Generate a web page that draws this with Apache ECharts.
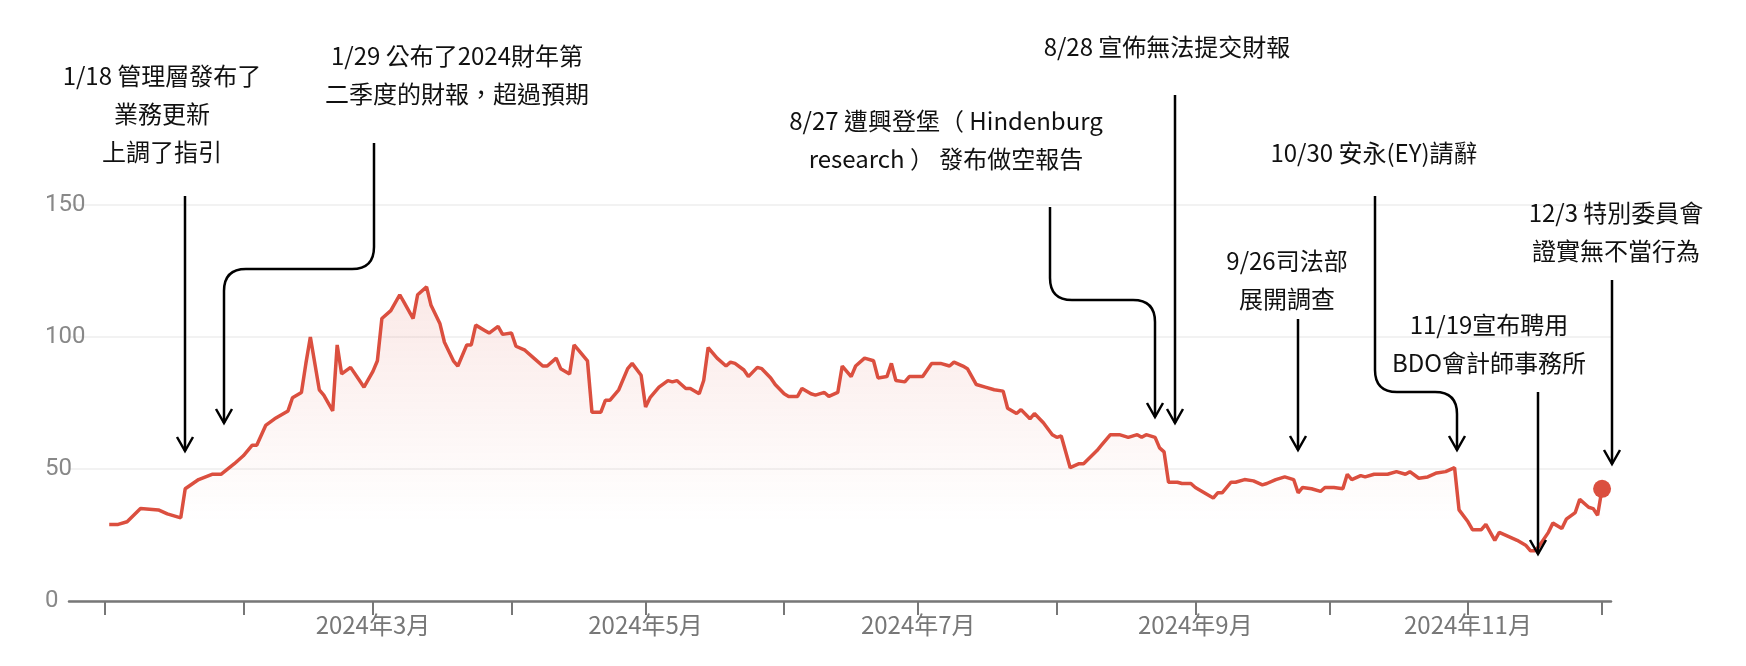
<!DOCTYPE html>
<html lang="zh-Hant">
<head>
    <meta charset="UTF-8">
    <title>超微股價</title>
    <script src="https://cdn.jsdelivr.net/npm/echarts@6/dist/echarts.min.js"></script>
    <style>
        html, body { margin: 0; padding: 0; background: #fff; }
        #main { width: 1746px; height: 666px; }
    </style>
</head>
<body>
<div id="main"></div>
<script>
    // 日期與收盤價
    const dates = [
        '2024-01-02','2024-01-04','2024-01-06','2024-01-09','2024-01-13','2024-01-15','2024-01-18','2024-01-19','2024-01-22','2024-01-25',
        '2024-01-27','2024-01-30','2024-02-01','2024-02-03','2024-02-04','2024-02-06','2024-02-08','2024-02-11','2024-02-12','2024-02-14',
        '2024-02-15','2024-02-16','2024-02-18','2024-02-19','2024-02-21','2024-02-22','2024-02-23','2024-02-25','2024-02-27','2024-02-28',
        '2024-03-01','2024-03-02','2024-03-03','2024-03-05','2024-03-07','2024-03-08','2024-03-10','2024-03-11','2024-03-13','2024-03-14',
        '2024-03-16','2024-03-17','2024-03-19','2024-03-20','2024-03-22','2024-03-23','2024-03-24','2024-03-26','2024-03-27','2024-03-29',
        '2024-03-30','2024-04-01','2024-04-02','2024-04-04','2024-04-06','2024-04-08','2024-04-09','2024-04-11','2024-04-12','2024-04-14',
        '2024-04-15','2024-04-16','2024-04-18','2024-04-19','2024-04-21','2024-04-22','2024-04-23','2024-04-25','2024-04-27','2024-04-28',
        '2024-04-30','2024-05-01','2024-05-02','2024-05-04','2024-05-06','2024-05-07','2024-05-08','2024-05-10','2024-05-11','2024-05-13',
        '2024-05-14','2024-05-15','2024-05-17','2024-05-19','2024-05-20','2024-05-21','2024-05-23','2024-05-24','2024-05-26','2024-05-27',
        '2024-05-29','2024-05-30','2024-06-01','2024-06-02','2024-06-04','2024-06-05','2024-06-07','2024-06-08','2024-06-10','2024-06-11',
        '2024-06-13','2024-06-14','2024-06-16','2024-06-17','2024-06-19','2024-06-21','2024-06-22','2024-06-24','2024-06-25','2024-06-26',
        '2024-06-28','2024-06-29','2024-07-01','2024-07-02','2024-07-04','2024-07-06','2024-07-08','2024-07-09','2024-07-11','2024-07-12',
        '2024-07-14','2024-07-16','2024-07-18','2024-07-20','2024-07-21','2024-07-23','2024-07-24','2024-07-26','2024-07-27','2024-07-29',
        '2024-07-31','2024-08-01','2024-08-02','2024-08-04','2024-08-06','2024-08-07','2024-08-10','2024-08-11','2024-08-13','2024-08-15',
        '2024-08-17','2024-08-19','2024-08-20','2024-08-21','2024-08-23','2024-08-24','2024-08-25','2024-08-26','2024-08-28','2024-08-29',
        '2024-08-31','2024-09-01','2024-09-03','2024-09-05','2024-09-06','2024-09-07','2024-09-09','2024-09-10','2024-09-12','2024-09-14',
        '2024-09-16','2024-09-17','2024-09-19','2024-09-21','2024-09-23','2024-09-24','2024-09-25','2024-09-27','2024-09-29','2024-09-30',
        '2024-10-02','2024-10-04','2024-10-05','2024-10-06','2024-10-08','2024-10-09','2024-10-11','2024-10-13','2024-10-14','2024-10-16',
        '2024-10-18','2024-10-19','2024-10-21','2024-10-23','2024-10-25','2024-10-27','2024-10-29','2024-10-30','2024-11-01','2024-11-02',
        '2024-11-04','2024-11-05','2024-11-07','2024-11-08','2024-11-10','2024-11-12','2024-11-14','2024-11-15','2024-11-16','2024-11-17',
        '2024-11-19','2024-11-20','2024-11-22','2024-11-23','2024-11-25','2024-11-26','2024-11-28','2024-11-29','2024-11-30','2024-12-01'
    ];
    const prices = [
        29, 29, 30, 35, 34.5, 33, 31.5, 42.5, 46, 48,
        48, 52, 55, 59, 59, 66.5, 69, 72, 77, 79,
        90, 100, 80, 78, 72, 97, 86, 88.5, 83.5, 81,
        87, 91, 107, 110, 116, 113, 107, 116, 119, 112,
        105, 98, 91, 89, 97, 97, 104.5, 102.5, 101.5, 104,
        101, 101.5, 96.5, 95, 92, 89, 89, 92, 88, 86,
        97, 95, 91, 71.5, 71.5, 76, 76, 80, 88, 90,
        85.5, 73.5, 77, 81, 83.5, 83, 83.5, 80.5, 80.5, 78.5,
        83.5, 96, 92, 89, 90.5, 90, 87.5, 85, 88.5, 88,
        84.5, 82, 78.5, 77.5, 77.5, 80.5, 78.5, 78, 79, 77.5,
        79, 89, 85, 89, 92, 91, 84.5, 85, 90, 83.5,
        83, 85, 85, 85, 90, 90, 89, 90.5, 89, 88,
        82, 81, 80, 79.5, 73, 71, 72.5, 69, 71, 67.5,
        63, 62, 62.5, 50.5, 52, 52, 57, 59, 63, 63,
        62, 63, 62, 63, 62, 58, 56.5, 45, 45, 44.5,
        44.5, 43, 41, 39, 41, 41, 45, 45, 46, 45.5,
        44, 44.5, 46, 47, 46, 41, 43, 42.5, 41.5, 43,
        43, 42.5, 48, 46, 47.5, 47, 48, 48, 48, 49,
        48, 49, 46.5, 47, 48.5, 49, 50.5, 34.5, 30, 27,
        27, 29, 23, 26, 24.5, 23, 21, 19, 19, 21,
        26, 29.5, 27.5, 31, 33.5, 38.5, 35.5, 35, 32.5, 42.5
    ];
    const yTicks = [0, 50, 100, 150];
    const labelMonths = [3, 5, 7, 9, 11];

    // 事件註解
    const notes = [
        { lines: ['1/18 管理層發布了', '業務更新', '上調了指引'], x: 162, y: 76 },
        { lines: ['1/29 公布了2024財年第', '二季度的財報，超過預期'], x: 457, y: 56 },
        { lines: ['8/27 遭興登堡（ Hindenburg', 'research ） 發布做空報告'], x: 946, y: 121 },
        { lines: ['8/28 宣佈無法提交財報'], x: 1167, y: 47 },
        { lines: ['10/30 安永(EY)請辭'], x: 1374, y: 153 },
        { lines: ['9/26司法部', '展開調查'], x: 1287, y: 261 },
        { lines: ['11/19宣布聘用', 'BDO會計師事務所'], x: 1489, y: 325 },
        { lines: ['12/3 特別委員會', '證實無不當行為'], x: 1616, y: 213 }
    ];
    // 箭頭路徑（像素）
    const arrows = [
        [[185, 196], [185, 451]],
        [[374, 143], [374, 269], [224, 269], [224, 423]],
        [[1050, 207], [1050, 300], [1155, 300], [1155, 417]],
        [[1175, 95], [1175, 423]],
        [[1375, 196], [1375, 392], [1457, 392], [1457, 450]],
        [[1298, 319], [1298, 450]],
        [[1538, 392], [1538, 554]],
        [[1612, 280], [1612, 464]]
    ];

    const textFont = '"Noto Sans CJK TC", "Noto Sans", sans-serif';
    const lineStyle = { stroke: '#000', lineWidth: 2.5, fill: null };
    let graphics = [];
    notes.forEach(function(n) {
        n.lines.forEach(function(t, i) {
            graphics.push({
                type: 'text', x: n.x, y: n.y + i * 38,
                style: { text: t, font: '400 24px ' + textFont, fill: '#111', align: 'center', verticalAlign: 'middle' },
                z: 10
            });
        });
    });
    // 折線轉角用圓角
    arrows.forEach(function(pts) {
        const r = 22;
        let start = pts[0];
        for (let i = 1; i < pts.length; i++) {
            const p = pts[i];
            if (i < pts.length - 1) {
                const prev = pts[i - 1], next = pts[i + 1];
                const a = [p[0] - Math.sign(p[0] - prev[0]) * r, p[1] - Math.sign(p[1] - prev[1]) * r];
                const b = [p[0] + Math.sign(next[0] - p[0]) * r, p[1] + Math.sign(next[1] - p[1]) * r];
                graphics.push({ type: 'line', shape: { x1: start[0], y1: start[1], x2: a[0], y2: a[1] }, style: lineStyle, z: 10 });
                graphics.push({ type: 'bezierCurve', shape: { x1: a[0], y1: a[1], x2: b[0], y2: b[1], cpx1: p[0], cpy1: p[1] }, style: lineStyle, z: 10 });
                start = b;
            } else {
                graphics.push({ type: 'line', shape: { x1: start[0], y1: start[1], x2: p[0], y2: p[1] }, style: lineStyle, z: 10 });
            }
        }
        const tip = pts[pts.length - 1];
        graphics.push({
            type: 'polyline',
            shape: { points: [[tip[0] - 8, tip[1] - 14], [tip[0], tip[1]], [tip[0] + 8, tip[1] - 14]] },
            style: lineStyle, z: 10
        });
    });

    const seriesData = dates.map(function(d, i) { return [d, prices[i]]; });

    let myChart = echarts.init(document.getElementById('main'));
    let option = {
        animation: false,
        grid: { left: 69, right: 135, top: 205, bottom: 65 },
        xAxis: {
            type: 'time',
            min: '2023-12-24',
            max: '2024-12-03',
            minInterval: 59 * 86400000,
            maxInterval: 62 * 86400000,
            axisLine: { lineStyle: { color: '#777', width: 2.5 } },
            axisTick: { show: true, length: 14, lineStyle: { color: '#777', width: 2 } },
            axisLabel: {
                color: '#777', fontSize: 24, fontFamily: textFont, margin: 12,
                formatter: function(v) {
                    const d = new Date(v);
                    const m = d.getMonth() + 1;
                    return labelMonths.indexOf(m) >= 0 && d.getDate() === 1 ? d.getFullYear() + '年' + m + '月' : '';
                }
            },
            splitLine: { show: false }
        },
        yAxis: {
            type: 'value',
            min: yTicks[0], max: yTicks[yTicks.length - 1], interval: 50,
            axisLine: { show: false },
            axisTick: { show: false },
            axisLabel: { color: '#888', fontSize: 24, fontFamily: 'Roboto, sans-serif', align: 'left', margin: 24, verticalAlign: 'middle' },
            splitLine: { lineStyle: { color: '#eeeeee', width: 1.5 } }
        },
        series: [{
            type: 'line',
            data: seriesData,
            showSymbol: false,
            lineStyle: { color: '#db4f3f', width: 3.5 },
            itemStyle: { color: '#db4f3f' },
            areaStyle: {
                color: new echarts.graphic.LinearGradient(0, 0, 0, 1, [
                    { offset: 0, color: 'rgba(219,79,63,0.18)' },
                    { offset: 0.75, color: 'rgba(219,79,63,0.0)' }
                ])
            },
            markPoint: {
                symbol: 'circle', symbolSize: 18,
                itemStyle: { color: '#db4f3f' },
                label: { show: false },
                data: [{ coord: seriesData[seriesData.length - 1] }]
            }
        }],
        graphic: graphics
    };
    myChart.setOption(option);
</script>
</body>
</html>
